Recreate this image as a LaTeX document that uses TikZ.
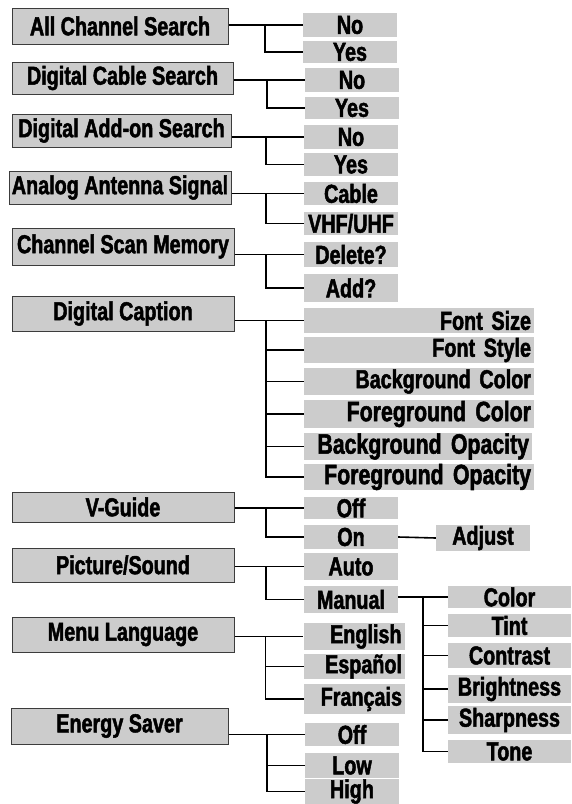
\documentclass[tikz,border=0pt]{standalone}
\usepackage{fontspec}
\setmainfont{Liberation Sans}[FakeStretch=0.76, BoldFeatures={FakeBold=1.8}]
\usepackage{tikz}
\usetikzlibrary{positioning}

\definecolor{menugray}{RGB}{204,204,204}
\definecolor{boxline}{RGB}{60,60,60}

\tikzset{
  menubox/.style={draw=boxline, line width=1pt, fill=menugray, inner sep=0pt,
    font=\fontsize{26}{26}\selectfont\bfseries},
  itembox/.style={fill=menugray, inner sep=0pt, minimum width=94,
    font=\fontsize{26}{26}\selectfont\bfseries},
  capbox/.style={fill=menugray, inner xsep=3pt, inner ysep=0pt, text width=224,
    align=right, font=\fontsize{26}{26}\selectfont\bfseries},
  bigtext/.style={font=\fontsize{28}{28}\selectfont\bfseries},
  link/.style={draw=black, line width=1.6pt}
}

\begin{document}
\begin{tikzpicture}[x=1pt, y=-1pt]
    \useasboundingbox (0,0) rectangle (571,804);

    % main menu entries
    \node[menubox, minimum width=216, minimum height=36] (acs) at (120,26) {All Channel Search};
    \node[menubox, minimum width=221, minimum height=32] (dcs) at (122.5,78) {Digital Cable Search};
    \node[menubox, minimum width=219, minimum height=33] (das) at (121.5,130.5) {Digital Add-on Search};
    \node[menubox, minimum width=222, minimum height=33] (aas) at (120,187.5) {Analog Antenna Signal};
    \node[menubox, minimum width=222, minimum height=37] (csm) at (123,246.5) {Channel Scan Memory};
    \node[menubox, minimum width=222, minimum height=35] (dc) at (123,313.5) {Digital Caption};
    \node[menubox, minimum width=222, minimum height=30] (vg) at (123,507) {V-Guide};
    \node[menubox, minimum width=222, minimum height=34] (ps) at (123,565) {Picture/Sound};
    \node[menubox, minimum width=222, minimum height=35] (ml) at (123,634.5) {Menu Language};
    \node[menubox, minimum width=217, minimum height=36] (es) at (119.5,726) {Energy Saver};

    % second level
    \node[itembox, minimum height=24] (no1) at (350,25) {No};
    \node[itembox, minimum height=22] (yes1) at (350,52) {Yes};
    \node[itembox, minimum height=24] (no2) at (352,80) {No};
    \node[itembox, minimum height=22] (yes2) at (352,108) {Yes};
    \node[itembox, minimum height=24] (no3) at (351,137) {No};
    \node[itembox, minimum height=23] (yes3) at (351,164.5) {Yes};
    \node[itembox, minimum height=23] (cab) at (351,193.5) {Cable};
    \node[itembox, minimum height=23] (vhf) at (351,223.5) {VHF/UHF};
    \node[itembox, minimum height=25] (del) at (351,254.5) {Delete?};
    \node[itembox, minimum height=28] (add) at (351,288) {Add?};

    \node[capbox, minimum height=25] (fsz) at (419,320.5) {Font Size};
    \node[capbox, minimum height=26] (fst) at (419,350) {Font Style};
    \node[capbox, minimum height=27] (bgc) at (419,381.5) {Background Color};
    \node[capbox, bigtext, minimum height=28] (fgc) at (419,414) {Foreground Color};
    \node[capbox, bigtext, minimum height=27, text width=222] (bgo) at (418,446.5) {Background Opacity};
    \node[capbox, bigtext, minimum height=26] (fgo) at (419,477) {Foreground Opacity};

    \node[itembox, minimum height=22] (off1) at (351,508) {Off};
    \node[itembox, minimum height=24] (on) at (351,537) {On};
    \node[itembox, minimum height=26] (adj) at (483,538) {Adjust};
    \node[itembox, minimum height=27] (auto) at (351,566.5) {Auto};
    \node[itembox, minimum height=27] (man) at (351,599.5) {Manual};

    \node[itembox, minimum width=123, minimum height=22] (col) at (509.5,597) {Color};
    \node[itembox, minimum width=123, minimum height=23] (tint) at (509.5,625.5) {Tint};
    \node[itembox, minimum width=123, minimum height=25] (con) at (509.5,655.5) {Contrast};
    \node[itembox, minimum width=123, minimum height=28] (bri) at (509.5,689) {Brightness};
    \node[itembox, minimum width=123, minimum height=28] (sha) at (509.5,720) {Sharpness};
    \node[itembox, minimum width=123, minimum height=23] (tone) at (509.5,751.5) {Tone};

    \node[capbox, text width=95, minimum height=27] (eng) at (354,636.5) {English};
    \node[capbox, text width=95, minimum height=25] (esp) at (354.5,666.5) {Español};
    \node[capbox, text width=95, minimum height=30] (fra) at (354.5,699) {Français};

    \node[itembox, minimum height=23] (off2) at (352,734.5) {Off};
    \node[itembox, minimum height=25] (low) at (352,765.5) {Low};
    \node[itembox, minimum height=23] (high) at (352,791.5) {High};

    % connectors
    \draw[link] (acs.east |- no1.west) -- (no1.west);
    \draw[link] (no1.west) ++(-38,0) |- (yes1.west);
    \draw[link] (dcs.east |- no2.west) -- (no2.west);
    \draw[link] (no2.west) ++(-38,0) |- (yes2.west);
    \draw[link] (das.east |- no3.west) -- (no3.west);
    \draw[link] (no3.west) ++(-38,0) |- (yes3.west);
    \draw[link] (aas.east |- cab.west) -- (cab.west);
    \draw[link] (cab.west) ++(-38,0) |- (vhf.west);
    \draw[link] (csm.east |- del.west) -- (del.west);
    \draw[link] (del.west) ++(-38,0) |- (add.west);

    \draw[link] (dc.east |- fsz.west) -- (fsz.west);
    \draw[link] (fsz.west) ++(-38,0) |- (fgo.west);
    \draw[link] (fst.west) -- ++(-38,0);
    \draw[link] (bgc.west) -- ++(-38,0);
    \draw[link] (fgc.west) -- ++(-38,0);
    \draw[link] (bgo.west) -- ++(-38,0);

    \draw[link] (vg.east |- off1.west) -- (off1.west);
    \draw[link] (off1.west) ++(-38,0) |- (on.west);
    \draw[link] (on.east) -- (adj.west);
    \draw[link] (ps.east |- auto.west) -- (auto.west);
    \draw[link] (auto.west) ++(-38,0) |- (man.west);

    \draw[link] (man.east |- col.west) -- (col.west);
    \draw[link] (col.west) ++(-25,0) |- (tone.west);
    \draw[link] (tint.west) -- ++(-25,0);
    \draw[link] (con.west) -- ++(-25,0);
    \draw[link] (bri.west) -- ++(-25,0);
    \draw[link] (sha.west) -- ++(-25,0);

    \draw[link] (ml.east |- eng.west) -- (eng.west);
    \draw[link] (eng.west) ++(-38,0) |- (fra.west);
    \draw[link] (esp.west) -- ++(-38,0);

    \draw[link] (es.east |- off2.west) -- (off2.west);
    \draw[link] (off2.west) ++(-38,0) |- (high.west);
    \draw[link] (low.west) -- ++(-38,0);
\end{tikzpicture}
\end{document}
